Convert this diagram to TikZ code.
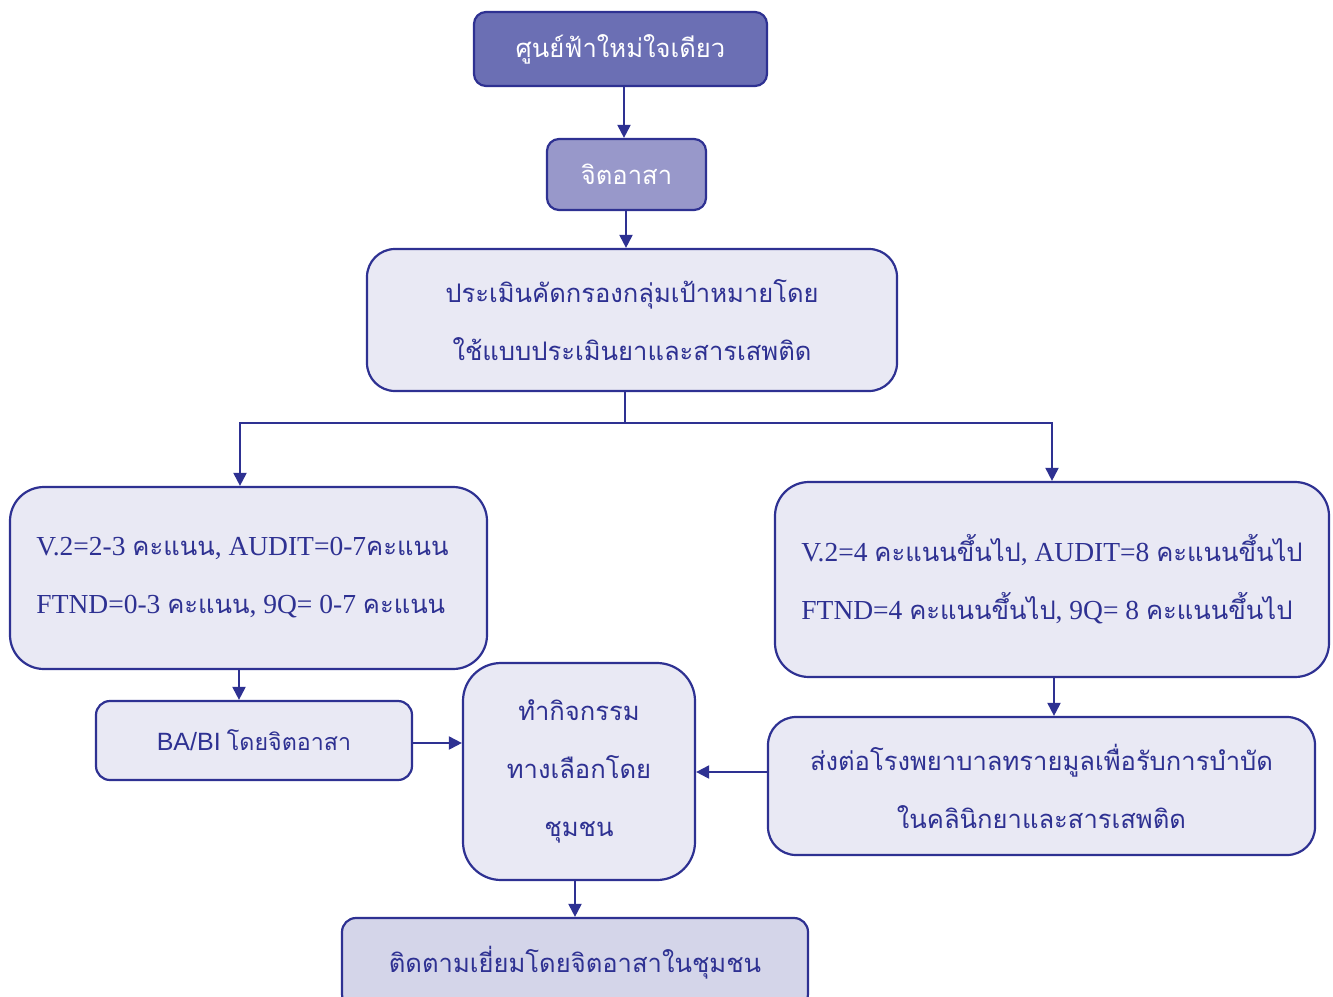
\documentclass[tikz,border=0pt]{standalone}
\usepackage{fontspec}
\setmainfont{Liberation Serif}
\newfontfamily\thai[Script=Thai,Scale=0.93]{Loma}
\newfontfamily\latsans{Liberation Sans}
\usetikzlibrary{arrows.meta}
\definecolor{navy}{HTML}{2E3192}
\definecolor{deepfill}{HTML}{6B6FB4}
\definecolor{midfill}{HTML}{9898CA}
\definecolor{paleFill}{HTML}{E9E9F4}
\definecolor{footfill}{HTML}{D4D5E9}
\begin{document}
\begin{tikzpicture}[x=1pt,y=-1pt,
  box/.style={draw=navy, line width=2.2pt, fill=paleFill, text=navy, align=center, inner sep=0pt},
  big/.style={font=\fontsize{27.5}{58}\selectfont},
  link/.style={draw=navy, line width=2pt, -{Triangle[length=13pt,width=13pt]}},
  plain/.style={draw=navy, line width=2pt}]
\useasboundingbox (0,0) rectangle (1333,996);

% header boxes
\node[box, fill=deepfill, text=white, rounded corners=12pt, minimum width=293pt, minimum height=74pt, big]
  (hub) at (620.5,49) {\thai ศูนย์ฟ้าใหม่ใจเดียว};
\node[box, fill=midfill, text=white, rounded corners=12pt, minimum width=159pt, minimum height=71pt, big]
  (vol) at (626.5,174.5) {\thai จิตอาสา};
\node[box, rounded corners=28pt, minimum width=530pt, minimum height=142pt, big]
  (screen) at (632,320) {\thai ประเมินคัดกรองกลุ่มเป้าหมายโดย\\ \thai ใช้แบบประเมินยาและสารเสพติด};

% score groups
\node[box, rounded corners=34pt, minimum width=477pt, minimum height=182pt, big, align=left]
  (low) at (248.5,578) {V.2=2-3 {\thai คะแนน}, AUDIT=0-7{\thai คะแนน}\hspace*{12pt}\\
  FTND=0-3 {\thai คะแนน}, 9Q= 0-7 {\thai คะแนน}};
\node[box, rounded corners=34pt, minimum width=554pt, minimum height=195pt, big, align=left]
  (high) at (1052,579.5) {V.2=4 {\thai คะแนนขึ้นไป}, AUDIT=8 {\thai คะแนนขึ้นไป}\\
  FTND=4 {\thai คะแนนขึ้นไป}, 9Q= 8 {\thai คะแนนขึ้นไป}};

% follow-up steps
\node[box, rounded corners=14pt, minimum width=316pt, minimum height=79pt, font=\fontsize{25}{28}\selectfont]
  (babi) at (254,740.5) {{\latsans BA/BI} {\thai โดยจิตอาสา}};
\node[box, rounded corners=38pt, minimum width=232pt, minimum height=217pt, big]
  (act) at (579,771.5) {\thai ทำกิจกรรม\\ \thai ทางเลือกโดย\\ \thai ชุมชน};
\node[box, rounded corners=28pt, minimum width=547pt, minimum height=138pt, big]
  (refer) at (1041.5,786) {\thai ส่งต่อโรงพยาบาลทรายมูลเพื่อรับการบำบัด\\ \thai ในคลินิกยาและสารเสพติด};
\node[box, fill=footfill, rounded corners=14pt, minimum width=466pt, minimum height=90pt, big]
  (visit) at (575,963) {\thai ติดตามเยี่ยมโดยจิตอาสาในชุมชน};

% connectors
\coordinate (split) at (625,423);
\draw[link] (hub.south -| 624,0) -- (vol.north -| 624,0);
\draw[link] (vol.south -| 626,0) -- (screen.north -| 626,0);
\draw[plain] (screen.south -| split) -- (split);
\draw[link] (split) -| (low.north -| 240,0);
\draw[link] (split) -| (high.north -| 1052,0);
\draw[link] (low.south -| 239,0) -- (babi.north -| 239,0);
\draw[link] (babi.east |- 0,743) -- (act.west |- 0,743);
\draw[link] (high.south -| 1054,0) -- (refer.north -| 1054,0);
\draw[link] (refer.west |- 0,772) -- (act.east |- 0,772);
\draw[link] (act.south -| 575,0) -- (visit.north -| 575,0);
\end{tikzpicture}
\end{document}
